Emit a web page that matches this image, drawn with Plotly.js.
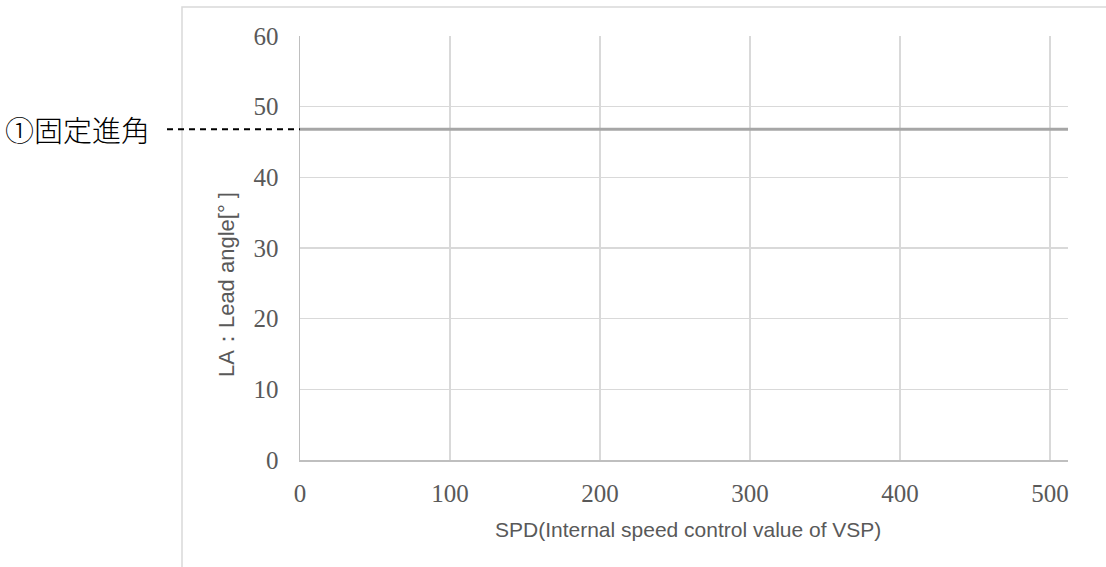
<!DOCTYPE html>
<html>
<head>
<meta charset="utf-8">
<script src="https://cdn.plot.ly/plotly-3.0.1.min.js"></script>
<style>
  html, body { margin: 0; padding: 0; background: #ffffff; }
  #chart { width: 1106px; height: 567px; }
</style>
</head>
<body>
<div id="chart"></div>
<script>
// Fixed lead angle over the whole SPD range
const spd = [0, 512];
const leadAngle = [46.8, 46.8];

const xTickVals = [0, 100, 200, 300, 400, 500];
const yTickVals = [0, 10, 20, 30, 40, 50, 60];

const xTitle = 'SPD(Internal speed control value of VSP)';
const yTitle = 'LA：Lead angle[° ]';
const lineLabel = '①固定進角';

const W = 1106, H = 567;
const M = { l: 300, r: 38, t: 36, b: 107 };
const plotW = W - M.l - M.r;
const plotH = H - M.t - M.b;
// pixel -> paper helpers for text placed outside the plot area
const px = x => (x - M.l) / plotW;
const py = y => (H - M.b - y) / plotH;

const tickFont = { family: 'Liberation Serif, serif', size: 25, color: '#595959' };
const titleFont = { family: 'Liberation Sans, Arial, sans-serif', size: 21, color: '#595959' };

const trace = {
  x: spd,
  y: leadAngle,
  type: 'scatter',
  mode: 'lines',
  line: { color: '#a6a6a6', width: 3 },
  hoverinfo: 'skip',
  showlegend: false
};

const layout = {
  width: W,
  height: H,
  margin: { l: M.l, r: M.r, t: M.t, b: M.b, pad: 0 },
  paper_bgcolor: '#ffffff',
  plot_bgcolor: '#ffffff',
  showlegend: false,
  xaxis: {
    range: [0, 512],
    tickvals: xTickVals,
    ticktext: xTickVals.map(String),
    tickfont: tickFont,
    ticks: 'outside',
    ticklen: 10,
    tickcolor: 'rgba(0,0,0,0)',
    showgrid: true,
    gridcolor: '#d9d9d9',
    gridwidth: 1.5,
    zeroline: false,
    showline: true,
    linecolor: '#bfbfbf',
    linewidth: 1.5,
    fixedrange: true
  },
  yaxis: {
    range: [0, 60],
    tickvals: yTickVals,
    ticktext: yTickVals.map(String),
    tickfont: tickFont,
    ticks: 'outside',
    ticklen: 15,
    tickcolor: 'rgba(0,0,0,0)',
    showgrid: true,
    gridcolor: '#d9d9d9',
    gridwidth: 1.5,
    zeroline: false,
    showline: true,
    linecolor: '#bfbfbf',
    linewidth: 1.5,
    fixedrange: true
  },
  shapes: [
    // chart-area frame
    {
      type: 'rect', xref: 'paper', yref: 'paper',
      x0: px(182), x1: px(1200), y0: py(700), y1: py(7),
      line: { color: '#d9d9d9', width: 1.5 },
      fillcolor: 'rgba(0,0,0,0)', layer: 'below'
    },
    // leader from the label to the lead-angle line
    {
      type: 'line', xref: 'paper', yref: 'y',
      x0: px(167), x1: 0, y0: leadAngle[0], y1: leadAngle[0],
      line: { color: '#000000', width: 2, dash: '6px,5px' }
    }
  ],
  annotations: [
    {
      text: lineLabel, xref: 'paper', yref: 'y',
      x: px(3), y: leadAngle[0], xanchor: 'left', yanchor: 'middle',
      showarrow: false,
      font: { family: 'Noto Sans CJK JP, sans-serif', size: 29, color: '#000000', weight: 300 }
    },
    {
      text: yTitle, xref: 'paper', yref: 'paper',
      x: px(226), y: py(285), xanchor: 'center', yanchor: 'middle',
      textangle: -90, showarrow: false,
      font: { family: 'Liberation Sans, Arial, sans-serif', size: 22, color: '#595959' }
    },
    {
      text: xTitle, xref: 'paper', yref: 'paper',
      x: px(688), y: py(529), xanchor: 'center', yanchor: 'middle',
      showarrow: false, font: titleFont
    }
  ]
};

Plotly.newPlot('chart', [trace], layout, { staticPlot: true, displayModeBar: false });
</script>
</body>
</html>
